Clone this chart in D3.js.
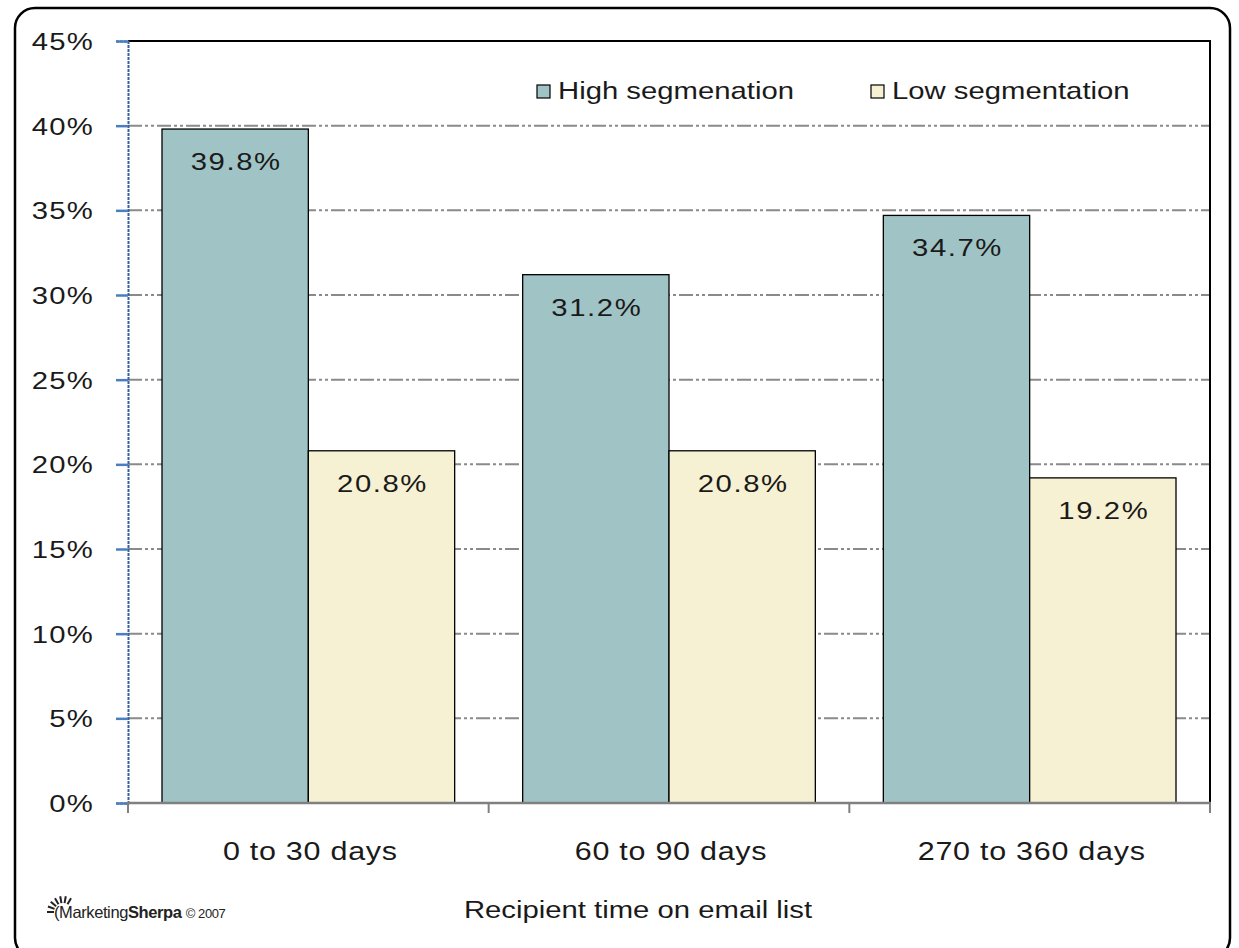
<!DOCTYPE html>
<html>
<head>
<meta charset="utf-8">
<script src="https://cdn.jsdelivr.net/npm/d3@7"></script>
<style>
  body { margin: 0; background: #fff; }
  svg { font-family: "Liberation Sans", Arial, sans-serif; }
</style>
</head>
<body>
<svg id="svg"></svg>
<script>
const categories = ['0 to 30 days', '60 to 90 days', '270 to 360 days'];
const seriesNames = ['High segmenation', 'Low segmentation'];
const highValues = [39.8, 31.2, 34.7];
const lowValues = [20.8, 20.8, 19.2];
const yTicks = [0, 5, 10, 15, 20, 25, 30, 35, 40, 45];
const colors = ['#a0c4c6', '#f7f1d3'];

const width = 1239, height = 948;
const plot = {left: 128, top: 41, right: 1210, bottom: 803};
const ink = '#1a1a1a';
const sx = 1.22; // the source font is a wide face, so stretch the glyphs a bit

const svg = d3.select('#svg').attr('width', width).attr('height', height);

// put a text at (x,y), stretched horizontally
function place(sel, x, y) {
  sel.attr('x', 0).attr('y', 0)
    .attr('transform', (d, i) => `translate(${typeof x === 'function' ? x(d, i) : x},${typeof y === 'function' ? y(d, i) : y}) scale(${sx},1)`);
}

// outer rounded frame
svg.append('rect')
  .attr('x', 15).attr('y', 8)
  .attr('width', 1215).attr('height', 950)
  .attr('rx', 20)
  .attr('fill', 'none').attr('stroke', '#000').attr('stroke-width', 2.5);

const y = d3.scaleLinear().domain([0, 45]).range([plot.bottom, plot.top]);
const x0 = d3.scaleBand().domain(categories).range([plot.left, plot.right]);
const x1 = d3.scaleBand().domain([0, 1]).range([34, x0.bandwidth() - 34]);

// gridlines
svg.append('g')
  .selectAll('line')
  .data(yTicks.filter(t => t > 0 && t < 45))
  .join('line')
    .attr('x1', plot.left).attr('x2', plot.right)
    .attr('y1', d => y(d)).attr('y2', d => y(d))
    .attr('stroke', '#8a8a8a').attr('stroke-width', 2)
    .attr('stroke-dasharray', '14,3,3,3,3,3');

// plot frame: top and right black
svg.append('line').attr('x1', plot.left).attr('x2', plot.right + 1)
  .attr('y1', plot.top).attr('y2', plot.top).attr('stroke', '#000').attr('stroke-width', 2);
svg.append('line').attr('x1', plot.right).attr('x2', plot.right)
  .attr('y1', plot.top).attr('y2', plot.bottom).attr('stroke', '#000').attr('stroke-width', 2);

// bars
const data = categories.map((c, i) => ({cat: c, values: [highValues[i], lowValues[i]]}));
const groups = svg.append('g').selectAll('g')
  .data(data)
  .join('g')
    .attr('transform', d => `translate(${x0(d.cat)},0)`);

groups.selectAll('rect')
  .data(d => d.values.map((v, k) => ({k, v})))
  .join('rect')
    .attr('x', d => x1(d.k))
    .attr('y', d => y(d.v))
    .attr('width', x1.bandwidth())
    .attr('height', d => y(0) - y(d.v))
    .attr('fill', d => colors[d.k])
    .attr('stroke', '#000').attr('stroke-width', 1.3);

groups.selectAll('text')
  .data(d => d.values.map((v, k) => ({k, v})))
  .join('text')
    .call(place, d => x1(d.k) + x1.bandwidth() / 2 + 1, d => y(d.v) + 41)
    .attr('text-anchor', 'middle')
    .attr('font-size', 24)
    .attr('letter-spacing', 1.3)
    .attr('fill', ink)
    .text(d => d.v.toFixed(1) + '%');

// y axis
const yAxis = svg.append('g')
  .attr('transform', `translate(${plot.left},0)`)
  .call(d3.axisLeft(y).tickValues(yTicks).tickSize(12).tickFormat(d => d + '%'));
yAxis.select('.domain').attr('stroke', '#3a5fa0').attr('stroke-width', 2).attr('stroke-dasharray', '3,1');
yAxis.selectAll('.tick line').attr('stroke', '#4a7ec0').attr('stroke-width', 2.5);
yAxis.selectAll('.tick text')
  .attr('x', 0).attr('dy', '0.36em')
  .attr('transform', `translate(-34,0) scale(${sx},1)`)
  .attr('font-size', 24)
  .attr('letter-spacing', 1)
  .attr('font-family', '"Liberation Sans", Arial, sans-serif')
  .attr('fill', ink);

// x axis
const xAxis = svg.append('g')
  .attr('transform', `translate(0,${plot.bottom})`)
  .call(d3.axisBottom(x0).tickSize(0));
xAxis.select('.domain').remove();
xAxis.append('line').attr('x1', plot.left).attr('x2', plot.right + 1)
  .attr('stroke', '#808080').attr('stroke-width', 2.5);
xAxis.selectAll('.sep')
  .data([plot.left, x0(categories[1]), x0(categories[2]), plot.right])
  .join('line')
    .attr('x1', d => d).attr('x2', d => d)
    .attr('y1', 0).attr('y2', 10)
    .attr('stroke', '#808080').attr('stroke-width', 2);
xAxis.selectAll('.tick text')
  .attr('x', 0).attr('y', 0).attr('dy', 0)
  .attr('transform', `translate(2,57) scale(${sx},1)`)
  .attr('font-size', 25)
  .attr('letter-spacing', 0.6)
  .attr('font-family', '"Liberation Sans", Arial, sans-serif')
  .attr('fill', ink);

// axis title
svg.append('text')
  .call(place, 638, 918)
  .attr('text-anchor', 'middle')
  .attr('font-size', 24)
  .attr('fill', ink)
  .text('Recipient time on email list');

// legend
const legendX = [537, 871];
const legend = svg.append('g').selectAll('g')
  .data(seriesNames)
  .join('g')
    .attr('transform', (d, i) => `translate(${legendX[i]},85)`);
legend.append('rect')
  .attr('width', 13).attr('height', 13)
  .attr('fill', (d, i) => colors[i])
  .attr('stroke', '#000').attr('stroke-width', 1.2);
legend.append('text')
  .call(place, 21, 14)
  .attr('font-size', 24)
  .attr('fill', ink)
  .text(d => d);

// logo
const logo = svg.append('g').attr('transform', 'translate(46,918)');
const rays = d3.range(7).map(i => 180 + i * 20);
logo.selectAll('line')
  .data(rays)
  .join('line')
    .attr('x1', d => 17 + 9 * Math.cos(d * Math.PI / 180))
    .attr('y1', d => -6 + 9 * Math.sin(d * Math.PI / 180))
    .attr('x2', d => 17 + 16 * Math.cos(d * Math.PI / 180))
    .attr('y2', d => -6 + 16 * Math.sin(d * Math.PI / 180))
    .attr('stroke', '#222').attr('stroke-width', 2);
logo.append('text')
  .attr('x', 8).attr('y', 0)
  .attr('font-size', 16.5)
  .attr('fill', '#222')
  .attr('letter-spacing', -0.4)
  .html('(Marketing<tspan font-weight="bold">Sherpa</tspan> <tspan font-size="13">© 2007</tspan>');
</script>
</body>
</html>
